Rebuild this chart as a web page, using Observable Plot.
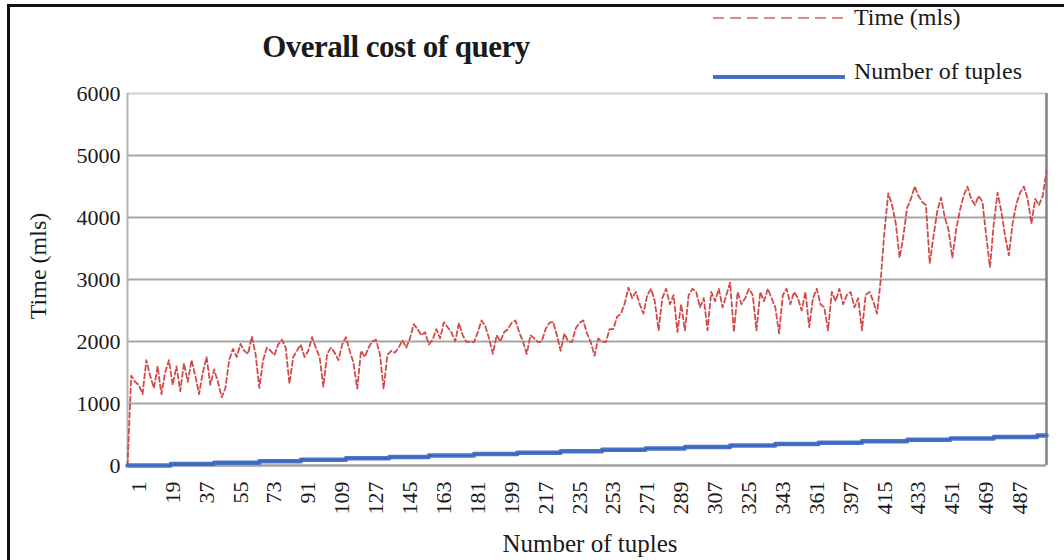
<!DOCTYPE html>
<html>
<head>
<meta charset="utf-8">
<script src="https://cdn.jsdelivr.net/npm/d3@7"></script>
<script src="https://cdn.jsdelivr.net/npm/@observablehq/plot@0.6"></script>
<style>
  html, body { margin: 0; padding: 0; background: #fff; }
  #wrap { position: relative; width: 1064px; height: 560px; overflow: hidden; font-family: "Liberation Serif", "Times New Roman", serif; color: #1a1a1a; }
  #frame { position: absolute; left: 7px; top: 4px; width: 1070px; height: 600px; border-left: 3px solid #111; border-top: 3px solid #111; }
  #chart { position: absolute; left: 0; top: 0; }
  #chart svg, #chart svg text { font-family: "Liberation Serif", "Times New Roman", serif !important; font-size: 22px; fill: #1a1a1a; }
  .title { position: absolute; left: 96px; width: 600px; top: 29px; text-align: center; font-weight: bold; font-size: 31px; letter-spacing: -0.5px; }
  .ylab { position: absolute; left: 38px; top: 266px; transform: translate(-50%, -50%) rotate(-90deg); font-size: 24px; white-space: nowrap; }
  .xlab { position: absolute; left: 590px; top: 530px; transform: translateX(-50%); font-size: 25px; white-space: nowrap; }
  .leg { position: absolute; left: 712px; font-size: 24px; white-space: nowrap; display: flex; align-items: center; }
  .leg svg { margin-right: 8px; }
</style>
</head>
<body>
<div id="wrap">
  <div id="frame"></div>
  <div id="chart"></div>
  <div class="title">Overall cost of query</div>
  <div class="ylab">Time (mls)</div>
  <div class="xlab">Number of tuples</div>
  <div class="leg" style="top:4px;"><svg width="134" height="10"><line x1="1" y1="5" x2="133" y2="5" stroke="#e08888" stroke-width="2" stroke-dasharray="11,6"/></svg>Time (mls)</div>
  <div class="leg" style="top:56px;"><svg width="134" height="30"><line x1="1" y1="21" x2="133" y2="21" stroke="#4a74c9" stroke-width="4"/><line x1="1" y1="21" x2="133" y2="21" stroke="#2f5db0" stroke-width="1.2" stroke-dasharray="2,2"/></svg>Number of tuples</div>
</div>
<script>
// ---- data ----
const yTicks = [0, 1000, 2000, 3000, 4000, 5000, 6000];
const gridValues = [1000, 2000, 3000, 4000, 5000];
// category positions of the tick labels and the label text shown there
const xTickPos = [1, 19, 37, 55, 73, 91, 109, 127, 145, 163, 181, 199, 217, 235, 253, 271, 289, 307, 325, 343, 361, 379, 397, 415, 433, 451, 469];
const xTickLabels = ["1", "19", "37", "55", "73", "91", "109", "127", "145", "163", "181", "199", "217", "235", "253", "271", "289", "307", "325", "343", "361", "397", "415", "433", "451", "469", "487"];
// time series, sampled every 2 categories starting at position -5
const timeStart = -5;
const timeStep = 2;
const timeMs = [
  0, 1450, 1350, 1300, 1150, 1700, 1450, 1250, 1600, 1150,
  1500, 1700, 1300, 1600, 1200, 1650, 1350, 1700, 1450,
  1150, 1500, 1750, 1300, 1550, 1350, 1100, 1250, 1700,
  1880, 1750, 1960, 1850, 1800, 2080, 1800, 1250, 1700, 1900,
  1850, 1780, 1950, 2030, 1900, 1320, 1750, 1850, 1950,
  1750, 1850, 2070, 1900, 1750, 1270, 1800, 1900, 1820, 1700,
  1950, 2070, 1850, 1650, 1240, 1850, 1750, 1900, 2000,
  2030, 1800, 1240, 1780, 1850, 1820, 1900, 2020, 1900, 2050,
  2280, 2200, 2100, 2150, 1950, 2030, 2200, 2050, 2310,
  2230, 2150,
  2000, 2300, 2100, 1990, 2000, 1990, 2150, 2340, 2250, 2050,
  1800, 2100, 2000, 2150, 2200, 2300, 2340, 2150, 2000,
  1800, 2100, 2050, 1990, 2000, 2200, 2300, 2320, 2100, 1850,
  2130, 2000, 1990, 2210, 2300, 2340, 2130, 1990, 1770,
  2050, 2000, 1990, 2200, 2200, 2400, 2450, 2610, 2870,
  2700, 2800, 2600, 2450, 2750, 2850, 2650, 2180, 2700, 2850,
  2600, 2750, 2150, 2600, 2180, 2750, 2850, 2800, 2550,
  2700, 2180, 2800, 2650, 2850, 2550, 2750, 2950, 2150, 2800,
  2600, 2700, 2850, 2750, 2180, 2800, 2650, 2850, 2700,
  2550, 2130, 2750, 2850, 2600, 2800, 2700, 2500, 2800, 2230,
  2700, 2850, 2600, 2550, 2180, 2800, 2650, 2850, 2600,
  2750, 2800, 2550, 2700, 2180, 2750, 2800, 2650, 2450,
  3000, 3800, 4390, 4200, 3900, 3350, 3700, 4160, 4300, 4500,
  4350, 4250, 4200, 3260, 3700, 4100, 4320, 4000, 3800,
  3350, 3800, 4110, 4350, 4500, 4300, 4200, 4350, 4250, 3700,
  3200, 3900, 4400, 4100, 3700, 3390, 3900, 4220, 4400, 4500,
  4300, 3900, 4300, 4200, 4350, 4750
];
// number of tuples (stair steps)
const tupleStepX = [-5, 18, 41, 65, 87, 111, 134, 155, 179, 202, 225, 247, 270, 291, 315, 339, 362, 385, 409, 432, 455, 478, 483];
const tupleStepY = [0, 23, 46, 69, 92, 115, 138, 161, 184, 207, 230, 253, 276, 299, 322, 345, 368, 391, 414, 437, 460, 483, 483];

// ---- build ----
const xDomain = [-5, 483];
const timeData = timeMs.map((v, i) => ({x: timeStart + timeStep * i, v}));
const tupleData = tupleStepX.map((x, i) => ({x, v: tupleStepY[i]}));
const labelMap = new Map(xTickPos.map((p, i) => [p, xTickLabels[i]]));

const chart = Plot.plot({
  width: 1064,
  height: 560,
  marginLeft: 127,
  marginRight: 18,
  marginTop: 93,
  marginBottom: 95,
  x: {domain: xDomain},
  y: {domain: [0, 6000]},
  style: {fontFamily: "Liberation Serif, Times New Roman, serif", fontSize: "22px", color: "#1a1a1a", background: "transparent", overflow: "visible"},
  marks: [
    Plot.ruleY(gridValues, {stroke: "#a6a6a6", strokeWidth: 2}),
    Plot.ruleY([6000], {stroke: "#d0d0d0", strokeWidth: 2}),
    Plot.ruleX([xDomain[0]], {stroke: "#b3b3b3", strokeWidth: 2}),
    Plot.ruleX([xDomain[1]], {stroke: "#7a838b", strokeWidth: 2.5}),
    Plot.line(timeData, {x: "x", y: "v", stroke: "#d24a4a", strokeWidth: 1.8, strokeDasharray: "5,3"}),
    Plot.ruleY([0], {stroke: "#a0a0a0", strokeWidth: 2.5}),
    Plot.line(tupleData, {x: "x", y: "v", curve: "step-after", stroke: "#4a74c9", strokeWidth: 4.5}),
    Plot.line(tupleData, {x: "x", y: "v", curve: "step-after", stroke: "#2f5db0", strokeWidth: 1.2, strokeDasharray: "2,2"}),
    Plot.axisY({ticks: yTicks, tickSize: 0, tickPadding: 7, tickFormat: d => String(d), label: null}),
    Plot.axisX({ticks: xTickPos, tickFormat: d => labelMap.get(d), tickRotate: -90, tickSize: 0, tickPadding: 16, label: null})
  ]
});
document.getElementById("chart").appendChild(chart);
</script>
</body>
</html>
